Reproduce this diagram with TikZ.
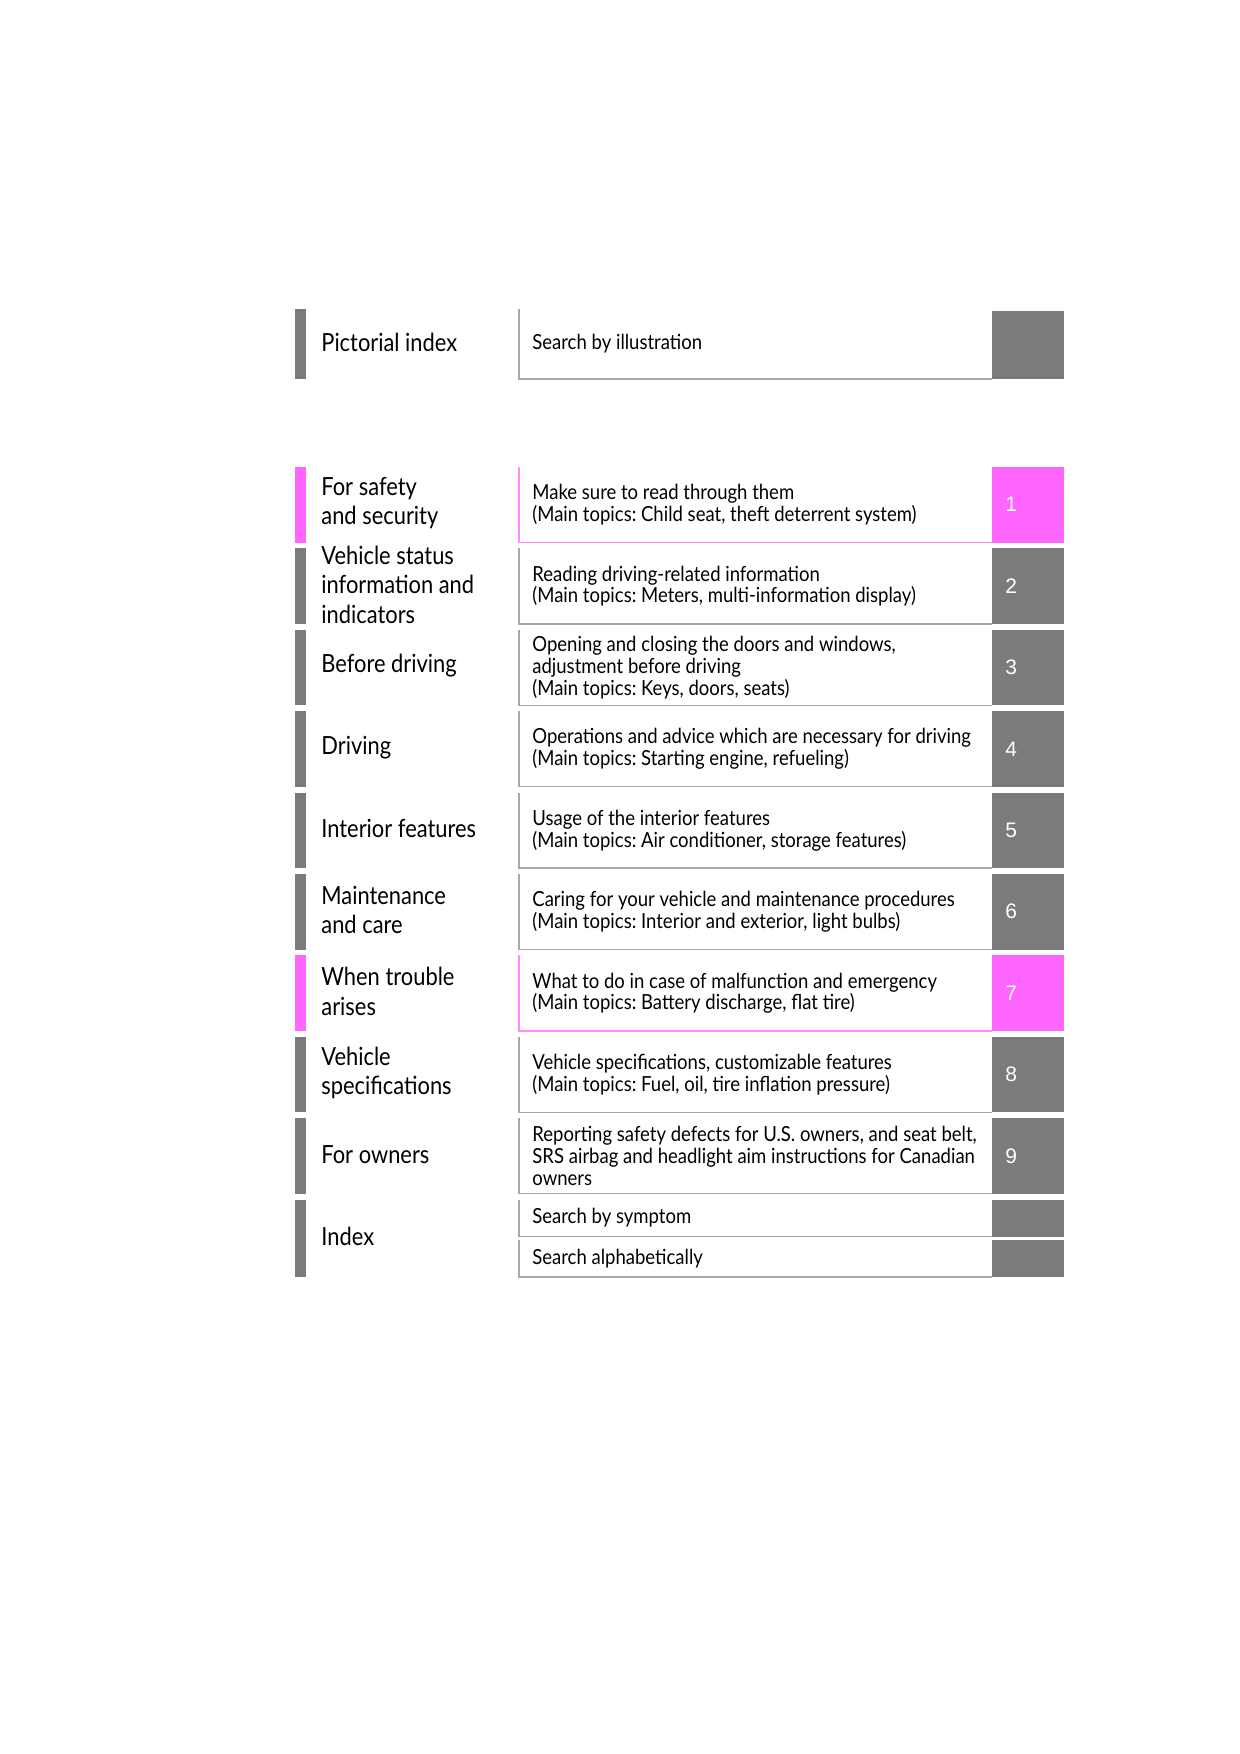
\documentclass[tikz,border=0pt]{standalone}
\usepackage{fontspec}
\setmainfont{Lato}[FakeStretch=0.875]
\newfontfamily\topicfont{Lato}[FakeStretch=0.89]
\newfontfamily\numfont{Liberation Sans}
\usetikzlibrary{positioning}
\definecolor{tabgray}{HTML}{7B7B7B}
\definecolor{tabpink}{HTML}{FF66FF}
\definecolor{linegray}{HTML}{A8A8A8}
\definecolor{linepink}{HTML}{FF8CFF}
\frenchspacing
\begin{document}
\begin{tikzpicture}[x=0.5pt,y=-0.5pt,
	bar/.style={rectangle,fill=tabgray,minimum width=5.5pt,minimum height=37.75pt,inner sep=0pt,outer sep=0pt,anchor=north west},
	topicbox/.style={rectangle,minimum width=236.5pt,minimum height=37.75pt,inner sep=0pt,outer sep=0pt,anchor=north west},
	numbox/.style={rectangle,fill=tabgray,minimum width=36pt,minimum height=37.75pt,inner sep=0pt,outer sep=0pt},
	halfbox/.style={minimum height=18.5pt},
	pink/.style={fill=tabpink},
	titletext/.style={inner sep=0pt,align=left,font=\fontsize{12.5}{14.8}\selectfont,yshift=0.8pt},
	topictext/.style={inner sep=0pt,align=left,font=\topicfont\fontsize{10.4}{10.9}\selectfont},
	numtext/.style={inner sep=0pt,text=white,font=\numfont\fontsize{10.5}{12}\selectfont},
	edge/.style={draw=linegray,line width=0.75pt},
	pinkedge/.style={draw=linepink,line width=0.75pt}]
	\useasboundingbox (0,0) rectangle (1240,1754);
	% Pictorial index
	\node[bar,minimum height=35pt] (b0) at (295,309) {};
	\node[topicbox,minimum height=35pt] (t0) at (519,309) {};
	\node[numbox,minimum height=34pt,anchor=south west] (n0) at (t0.south east) {};
	\draw[edge] (t0.north west) -- (t0.south west) -- (t0.south east);
	\node[titletext,right=7.5pt of b0.east] (l0) {Pictorial index};
	\node[topictext,right=6.5pt of t0.west] (s0) {Search by illustration};
	% 1
	\node[bar,pink] (b1) at (295,467) {};
	\node[topicbox] (t1) at (519,467) {};
	\node[numbox,pink,right=0pt of t1] (n1) {};
	\draw[pinkedge] (t1.north west) -- (t1.south west) -- (t1.south east);
	\node[titletext,right=7.5pt of b1.east] (l1) {For safety\\and security};
	\node[topictext,right=6.5pt of t1.west] (s1) {Make sure to read through them\\(Main topics: Child seat, theft deterrent system)};
	\node[numtext,right=6.5pt of n1.west] {1};
	% 2
	\node[bar] (b2) at (295,548.4) {};
	\node[topicbox] (t2) at (519,548.4) {};
	\node[numbox,right=0pt of t2] (n2) {};
	\draw[edge] (t2.north west) -- (t2.south west) -- (t2.south east);
	\node[titletext,right=7.5pt of b2.east] (l2) {Vehicle status\\information and\\indicators};
	\node[topictext,right=6.5pt of t2.west] (s2) {Reading driving-related information\\(Main topics: Meters, multi-information display)};
	\node[numtext,right=6.5pt of n2.west] {2};
	% 3
	\node[bar] (b3) at (295,629.8) {};
	\node[topicbox] (t3) at (519,629.8) {};
	\node[numbox,right=0pt of t3] (n3) {};
	\draw[edge] (t3.north west) -- (t3.south west) -- (t3.south east);
	\node[titletext,right=7.5pt of b3.east] (l3) {Before driving};
	\node[topictext,right=6.5pt of t3.west] (s3) {Opening and closing the doors and windows,\\adjustment before driving\\(Main topics: Keys, doors, seats)};
	\node[numtext,right=6.5pt of n3.west] {3};
	% 4
	\node[bar] (b4) at (295,711.2) {};
	\node[topicbox] (t4) at (519,711.2) {};
	\node[numbox,right=0pt of t4] (n4) {};
	\draw[edge] (t4.north west) -- (t4.south west) -- (t4.south east);
	\node[titletext,right=7.5pt of b4.east] (l4) {Driving};
	\node[topictext,right=6.5pt of t4.west] (s4) {Operations and advice which are necessary for driving\\(Main topics: Starting engine, refueling)};
	\node[numtext,right=6.5pt of n4.west] {4};
	% 5
	\node[bar] (b5) at (295,792.6) {};
	\node[topicbox] (t5) at (519,792.6) {};
	\node[numbox,right=0pt of t5] (n5) {};
	\draw[edge] (t5.north west) -- (t5.south west) -- (t5.south east);
	\node[titletext,right=7.5pt of b5.east] (l5) {Interior features};
	\node[topictext,right=6.5pt of t5.west] (s5) {Usage of the interior features\\(Main topics: Air conditioner, storage features)};
	\node[numtext,right=6.5pt of n5.west] {5};
	% 6
	\node[bar] (b6) at (295,874) {};
	\node[topicbox] (t6) at (519,874) {};
	\node[numbox,right=0pt of t6] (n6) {};
	\draw[edge] (t6.north west) -- (t6.south west) -- (t6.south east);
	\node[titletext,right=7.5pt of b6.east] (l6) {Maintenance\\and care};
	\node[topictext,right=6.5pt of t6.west] (s6) {Caring for your vehicle and maintenance procedures\\(Main topics: Interior and exterior, light bulbs)};
	\node[numtext,right=6.5pt of n6.west] {6};
	% 7
	\node[bar,pink] (b7) at (295,955.4) {};
	\node[topicbox] (t7) at (519,955.4) {};
	\node[numbox,pink,right=0pt of t7] (n7) {};
	\draw[pinkedge] (t7.north west) -- (t7.south west) -- (t7.south east);
	\node[titletext,right=7.5pt of b7.east] (l7) {When trouble\\arises};
	\node[topictext,right=6.5pt of t7.west] (s7) {What to do in case of malfunction and emergency\\(Main topics: Battery discharge, flat tire)};
	\node[numtext,right=6.5pt of n7.west] {7};
	% 8
	\node[bar] (b8) at (295,1036.8) {};
	\node[topicbox] (t8) at (519,1036.8) {};
	\node[numbox,right=0pt of t8] (n8) {};
	\draw[edge] (t8.north west) -- (t8.south west) -- (t8.south east);
	\node[titletext,right=7.5pt of b8.east] (l8) {Vehicle\\specifications};
	\node[topictext,right=6.5pt of t8.west] (s8) {Vehicle specifications, customizable features\\(Main topics: Fuel, oil, tire inflation pressure)};
	\node[numtext,right=6.5pt of n8.west] {8};
	% 9
	\node[bar] (b9) at (295,1118.2) {};
	\node[topicbox] (t9) at (519,1118.2) {};
	\node[numbox,right=0pt of t9] (n9) {};
	\draw[edge] (t9.north west) -- (t9.south west) -- (t9.south east);
	\node[titletext,right=7.5pt of b9.east] (l9) {For owners};
	\node[topictext,right=6.5pt of t9.west] (s9) {Reporting safety defects for U.S. owners, and seat belt,\\SRS airbag and headlight aim instructions for Canadian\\owners};
	\node[numtext,right=6.5pt of n9.west] {9};
	% Index
	\node[bar,minimum height=38.5pt] (b10) at (295,1199.6) {};
	\node[topicbox,halfbox] (t10) at (519,1199.6) {};
	\node[numbox,halfbox,right=0pt of t10] (n10) {};
	\node[topicbox,halfbox] (t11) at (519,1240.1) {};
	\node[numbox,halfbox,right=0pt of t11] (n11) {};
	\draw[edge] (t10.north west) -- (t10.south west) -- (t10.south east);
	\draw[edge] (t11.north west) -- (t11.south west) -- (t11.south east);
	\node[titletext,right=7.5pt of b10.east] (l10) {Index};
	\node[topictext,right=6.5pt of t10.west] (s10) {Search by symptom};
	\node[topictext,right=6.5pt of t11.west] (s11) {Search alphabetically};
\end{tikzpicture}
\end{document}
